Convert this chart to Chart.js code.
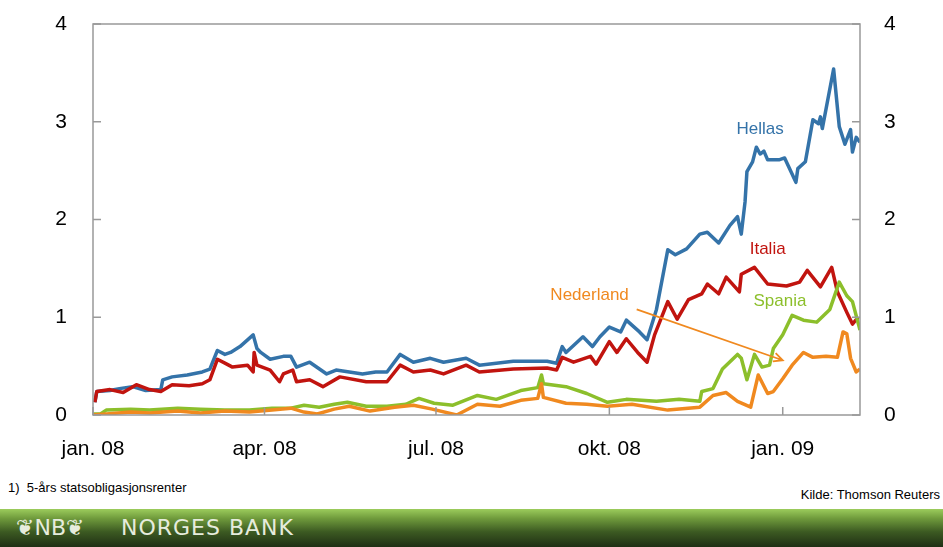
<!DOCTYPE html>
<html>
<head>
<meta charset="utf-8">
<script src="https://cdn.jsdelivr.net/npm/chart.js@4.4.1/dist/chart.umd.min.js"></script>
<style>
    html, body { margin: 0; padding: 0; background: #fff; }
    body { width: 943px; height: 547px; position: relative; overflow: hidden; font-family: "Liberation Sans", Arial, sans-serif; }
    #wrap { position: absolute; left: 0; top: 0; width: 943px; height: 470px; }
    .note { position: absolute; font-size: 13px; color: #000; }
    #banner {
        position: absolute; left: 0; top: 509px; width: 943px; height: 38px;
        background: linear-gradient(to bottom, #9ccc5c 0%, #6f9a3c 25%, #3c5a22 60%, #1f2f14 100%);
    }
    #banner span {
        position: absolute; top: 6px; color: #e6ecdd; font-family: "DejaVu Sans", sans-serif;
        font-size: 22px; letter-spacing: 1px;
    }
</style>
</head>
<body>
<div id="wrap"><canvas id="chart" width="943" height="470"></canvas></div>
<div class="note" style="left:8px; top:480px;">1)&nbsp; 5-års statsobligasjonsrenter</div>
<div class="note" style="right:3px; top:487px;">Kilde: Thomson Reuters</div>
<div id="banner"><span style="left:16px; letter-spacing:0;">&#x2766;NB&#x2766;</span><span style="left:121px;">NORGES BANK</span></div>
<script>
/**
 * Statsobligasjonsrenter, differanse mot Tyskland (prosentenheter)
 * x = dager etter 1. jan. 2008
 */

const xTickDays = [0, 91, 182, 274, 366];
const xTickLabels = ['jan. 08', 'apr. 08', 'jul. 08', 'okt. 08', 'jan. 09'];
const yTicks = [0, 1, 2, 3, 4];

const hellasDays = [1, 2, 9, 14, 21, 28, 36, 37, 42, 50, 58, 62, 66, 70, 73, 78, 85, 87, 89, 94, 101, 105, 108, 115, 124, 129, 143, 150, 156,
    163, 170, 179, 186, 198, 205, 223, 241, 246, 249, 251, 260, 265, 269, 274, 280, 283, 290, 294, 299, 305, 309, 315, 322, 326, 332, 338,
    342, 344, 346, 347, 350, 352, 354, 356, 358, 364, 367, 373, 374, 378, 382, 385, 386, 387, 393, 396, 399, 402, 403, 405, 407];
const hellasValues = [0.13, 0.24, 0.25, 0.27, 0.29, 0.25, 0.26, 0.36, 0.39, 0.41, 0.44, 0.47, 0.66, 0.62, 0.64, 0.70, 0.82, 0.68, 0.64, 0.57,
    0.60, 0.60, 0.49, 0.54, 0.42, 0.46, 0.42, 0.44, 0.44, 0.62, 0.54, 0.58, 0.54, 0.58, 0.51, 0.55, 0.55, 0.53, 0.70, 0.64, 0.80, 0.70, 0.80,
    0.90, 0.85, 0.97, 0.85, 0.77, 1.08, 1.69, 1.64, 1.70, 1.85, 1.87, 1.76, 1.94, 2.03, 1.85, 2.18, 2.49, 2.59, 2.74, 2.67, 2.70, 2.61, 2.61,
    2.63, 2.38, 2.52, 2.59, 3.02, 2.98, 3.05, 2.93, 3.54, 2.95, 2.77, 2.92, 2.69, 2.84, 2.79];

const italiaDays = [1, 2, 9, 16, 23, 30, 36, 42, 51, 58, 62, 66, 71, 74, 82, 85, 85.5, 87, 94, 99, 101, 106, 108, 115, 122, 131, 145, 156,
    163, 170, 179, 186, 198, 205, 223, 241, 246, 249, 255, 264, 267, 274, 278, 283, 289, 294, 298, 305, 310, 316, 323, 326, 332, 336, 343,
    344, 351, 358, 368, 375, 379, 386, 392, 395, 400, 403, 406];
const italiaValues = [0.13, 0.24, 0.26, 0.23, 0.31, 0.26, 0.24, 0.31, 0.30, 0.32, 0.36, 0.57, 0.52, 0.49, 0.51, 0.44, 0.64, 0.51, 0.46, 0.34,
    0.42, 0.46, 0.34, 0.36, 0.29, 0.39, 0.34, 0.34, 0.51, 0.44, 0.46, 0.42, 0.51, 0.44, 0.47, 0.48, 0.46, 0.59, 0.54, 0.60, 0.52, 0.75, 0.64,
    0.78, 0.64, 0.54, 0.82, 1.16, 0.98, 1.18, 1.24, 1.34, 1.24, 1.41, 1.26, 1.44, 1.51, 1.34, 1.32, 1.36, 1.48, 1.31, 1.51, 1.26, 1.05, 0.93, 1.00];

const spaniaDays = [0, 4, 7, 20, 30, 45, 57, 70, 83, 95, 105, 112, 120, 128, 135, 145, 156, 166, 173, 181, 191, 204, 214, 227, 236, 238, 239,
    251, 262, 273, 283, 299, 311, 322, 323, 329, 334, 342, 344, 347, 351, 355, 359, 361, 366, 371, 377, 384, 391, 396, 400, 403, 407];
const spaniaValues = [0.01, 0.01, 0.05, 0.06, 0.05, 0.07, 0.06, 0.05, 0.05, 0.07, 0.07, 0.10, 0.08, 0.11, 0.13, 0.09, 0.09, 0.11, 0.17, 0.12,
    0.10, 0.20, 0.16, 0.25, 0.28, 0.41, 0.32, 0.29, 0.22, 0.13, 0.16, 0.14, 0.16, 0.14, 0.24, 0.27, 0.47, 0.62, 0.58, 0.36, 0.62, 0.49, 0.51,
    0.68, 0.82, 1.02, 0.97, 0.95, 1.08, 1.36, 1.22, 1.16, 0.87];

const nederlandDays = [0, 7, 20, 30, 45, 57, 70, 83, 95, 105, 112, 119, 128, 136, 147, 160, 170, 180, 193, 204, 216, 227, 236, 238, 239, 251,
    262, 273, 286, 305, 322, 329, 336, 342, 349, 353, 358, 361, 366, 371, 377, 382, 389, 395, 398, 400, 402, 405, 407];
const nederlandValues = [0.00, 0.01, 0.03, 0.02, 0.04, 0.02, 0.04, 0.03, 0.05, 0.07, 0.03, 0.01, 0.06, 0.09, 0.04, 0.08, 0.10, 0.06, 0.00,
    0.11, 0.09, 0.15, 0.17, 0.32, 0.18, 0.12, 0.11, 0.09, 0.11, 0.05, 0.08, 0.20, 0.23, 0.14, 0.08, 0.41, 0.22, 0.24, 0.37, 0.51, 0.64, 0.59,
    0.60, 0.59, 0.85, 0.83, 0.58, 0.44, 0.47];

const COLORS = {
    hellas: '#3473a9',
    italia: '#c1140f',
    spania: '#8cbf2b',
    nederland: '#f0891f',
    frame: '#999999'
};

function toPoints(days, values) {
    return days.map((d, i) => ({ x: d, y: values[i] }));
}

function lineSet(label, days, values, color) {
    return {
        label: label,
        data: toPoints(days, values),
        borderColor: color,
        backgroundColor: color,
        borderWidth: 3.5,
        pointRadius: 0,
        tension: 0,
        borderJoinStyle: 'round',
        yAxisID: 'y'
    };
}

// frame, inward ticks, series labels and arrow
const decorations = {
    id: 'decorations',
    afterDatasetsDraw(chart) {
        const ctx = chart.ctx;
        const a = chart.chartArea;
        const xs = chart.scales.x;
        const ys = chart.scales.y;

        ctx.save();
        ctx.strokeStyle = COLORS.frame;
        ctx.lineWidth = 1.5;
        ctx.strokeRect(a.left, a.top, a.right - a.left, a.bottom - a.top);

        ctx.beginPath();
        yTicks.forEach(v => {
            const py = ys.getPixelForValue(v);
            ctx.moveTo(a.left, py); ctx.lineTo(a.left + 8, py);
            ctx.moveTo(a.right, py); ctx.lineTo(a.right - 8, py);
        });
        xTickDays.forEach(d => {
            const px = xs.getPixelForValue(d);
            ctx.moveTo(px, a.bottom); ctx.lineTo(px, a.bottom - 8);
        });
        ctx.stroke();

        ctx.font = '17px "Liberation Sans", Arial, sans-serif';
        ctx.textAlign = 'center';
        ctx.textBaseline = 'middle';
        const labels = [
            ['Hellas', 354, 2.92, COLORS.hellas],
            ['Italia', 358, 1.69, COLORS.italia],
            ['Spania', 364.5, 1.16, COLORS.spania],
            ['Nederland', 263.5, 1.22, COLORS.nederland]
        ];
        labels.forEach(([t, d, v, c]) => {
            ctx.fillStyle = c;
            ctx.fillText(t, xs.getPixelForValue(d), ys.getPixelForValue(v));
        });

        // arrow from Nederland label
        const x1 = xs.getPixelForValue(288.5), y1 = ys.getPixelForValue(1.08);
        const x2 = xs.getPixelForValue(366), y2 = ys.getPixelForValue(0.56);
        const ang = Math.atan2(y2 - y1, x2 - x1);
        ctx.strokeStyle = COLORS.nederland;
        ctx.lineWidth = 1.8;
        ctx.beginPath();
        ctx.moveTo(x1, y1); ctx.lineTo(x2, y2);
        ctx.moveTo(x2 - 10 * Math.cos(ang - 0.45), y2 - 10 * Math.sin(ang - 0.45));
        ctx.lineTo(x2, y2);
        ctx.lineTo(x2 - 10 * Math.cos(ang + 0.45), y2 - 10 * Math.sin(ang + 0.45));
        ctx.stroke();
        ctx.restore();
    }
};

const tickFont = { family: '"Liberation Sans", Arial, sans-serif', size: 21 };

function fixWidth(w) {
    return (scale) => {
        scale.width = w;
        scale.paddingTop = 0;
        scale.paddingBottom = 0;
    };
}

new Chart(document.getElementById('chart'), {
    type: 'line',
    data: {
        datasets: [
            lineSet('Nederland', nederlandDays, nederlandValues, COLORS.nederland),
            lineSet('Spania', spaniaDays, spaniaValues, COLORS.spania),
            lineSet('Italia', italiaDays, italiaValues, COLORS.italia),
            lineSet('Hellas', hellasDays, hellasValues, COLORS.hellas)
        ]
    },
    options: {
        responsive: false,
        animation: false,
        layout: { padding: { top: 24, left: 0, right: 0, bottom: 0 } },
        plugins: {
            legend: { display: false },
            tooltip: { enabled: false }
        },
        scales: {
            x: {
                type: 'linear',
                min: 0,
                max: 407,
                afterBuildTicks: (scale) => { scale.ticks = xTickDays.map(v => ({ value: v })); },
                afterFit: (scale) => {
                    scale.height = 55;
                    scale.paddingLeft = 0;
                    scale.paddingRight = 0;
                },
                grid: { display: false },
                border: { display: false },
                ticks: {
                    font: tickFont,
                    color: '#000',
                    padding: 14,
                    maxRotation: 0,
                    autoSkip: false,
                    callback: (v) => xTickLabels[xTickDays.indexOf(v)]
                }
            },
            y: {
                position: 'left',
                min: 0,
                max: 4,
                afterBuildTicks: (scale) => { scale.ticks = yTicks.map(v => ({ value: v })); },
                afterFit: fixWidth(93),
                grid: { display: false },
                border: { display: false },
                ticks: { font: tickFont, color: '#000', padding: 18 }
            },
            y2: {
                position: 'right',
                min: 0,
                max: 4,
                afterBuildTicks: (scale) => { scale.ticks = yTicks.map(v => ({ value: v })); },
                afterFit: fixWidth(83),
                grid: { display: false },
                border: { display: false },
                ticks: { font: tickFont, color: '#000', padding: 16 }
            }
        }
    },
    plugins: [decorations]
});
</script>
</body>
</html>
